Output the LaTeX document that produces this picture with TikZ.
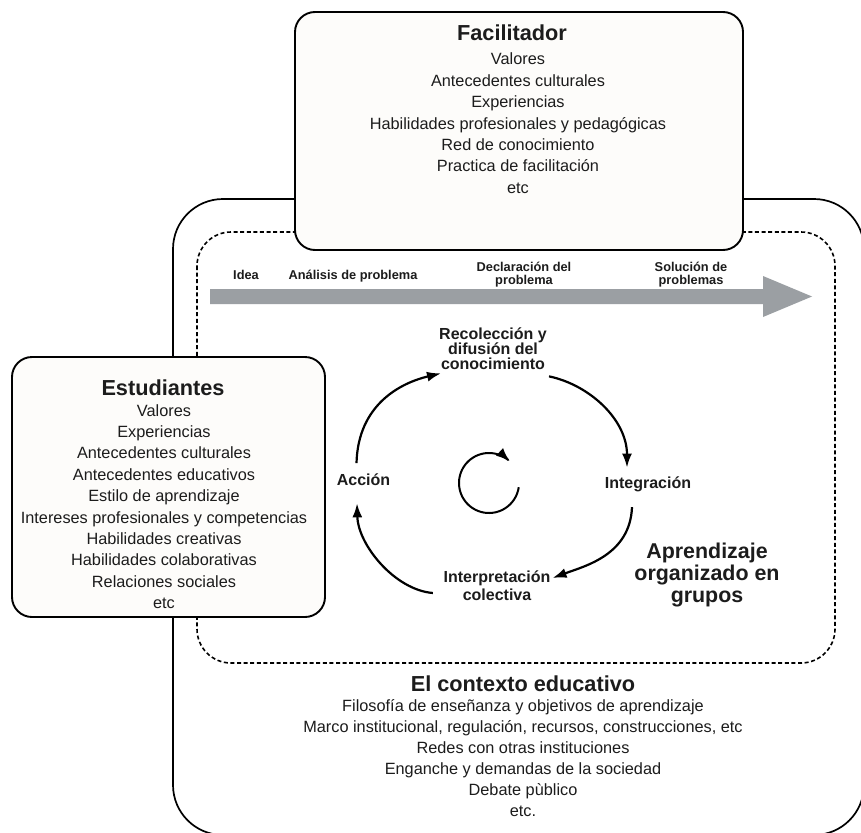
\documentclass[tikz,border=0pt]{standalone}
\usepackage{fontspec}
\setmainfont{Liberation Sans}
\usetikzlibrary{arrows.meta}
\definecolor{txt}{HTML}{1C1C1C}
\definecolor{boxfill}{HTML}{FDFCFA}
\definecolor{flow}{HTML}{9B9FA3}
\newcommand\mystack[1]{\vtop{\lineskiplimit=-100pt\halign{\hfil##\hfil\cr#1\crcr}}}
\begin{document}
\begin{tikzpicture}[x=1pt,y=-1pt,
  panel/.style={draw=black, line width=1.9pt, fill=boxfill, rounded corners=20pt, inner sep=0pt},
  listtxt/.style={anchor=base, inner sep=0pt, text=txt, font=\fontsize{16.3}{21.4}\selectfont},
  titletxt/.style={anchor=base, inner sep=0pt, text=txt, font=\bfseries\fontsize{21.7}{24}\selectfont},
  flowtxt/.style={anchor=base, inner sep=0pt, text=txt, font=\bfseries\fontsize{12.8}{13}\selectfont},
  cyctxt/.style={anchor=base, inner sep=0pt, text=txt, font=\bfseries\fontsize{16}{15}\selectfont},
  cyc/.style={line width=2.2pt, -{Latex[length=14pt,width=10pt]}},
]
\useasboundingbox (0,0) rectangle (861,832);
\clip (0,0) rectangle (861,832);
\fill[white] (0,0) rectangle (861,832);

% context frames
\draw[line width=1.7pt, rounded corners=50pt] (173,199) rectangle (864,835);
\draw[line width=1.6pt, dash pattern=on 4pt off 2.6pt, rounded corners=34pt] (197,232) rectangle (835,663);

% facilitator and students panels
\node[panel, minimum width=448pt, minimum height=238pt] (facbox) at (519,131) {};
\node[panel, minimum width=313pt, minimum height=260pt] (estbox) at (168.5,487) {};

\node[titletxt] (factitle) at (512,40.7) {Facilitador};
\node[listtxt] (faclist) at (518,65) {\mystack{Valores\cr Antecedentes culturales\cr Experiencias\cr Habilidades profesionales y pedagógicas\cr Red de conocimiento\cr Practica de facilitación\cr etc}};

\node[titletxt] (esttitle) at (163,395) {Estudiantes};
\node[listtxt] (estlist) at (164,416) {\mystack{Valores\cr Experiencias\cr Antecedentes culturales\cr Antecedentes educativos\cr Estilo de aprendizaje\cr Intereses profesionales y competencias\cr Habilidades creativas\cr Habilidades colaborativas\cr Relaciones sociales\cr etc}};

\node[titletxt] (ctxtitle) at (523,691.7) {El contexto educativo};
\node[listtxt, font=\fontsize{16.3}{21}\selectfont] (ctxlist) at (523,711.7) {\mystack{Filosofía de enseñanza y objetivos de aprendizaje\cr Marco institucional, regulación, recursos, construcciones, etc\cr Redes con otras instituciones\cr Enganche y demandas de la sociedad\cr Debate pùblico\cr etc.}};

% problem-solving flow arrow
\fill[flow] (210,289) -- (763,289) -- (763,276) -- (812,296.5) -- (763,317) -- (763,304) -- (210,304) -- cycle;
\node[flowtxt] (idea) at (246,279.3) {Idea};
\node[flowtxt] (anal) at (353,279.3) {Análisis de problema};
\node[flowtxt] (decl) at (524,271) {\mystack{Declaración del\cr problema}};
\node[flowtxt] (solu) at (691,271) {\mystack{Solución de\cr problemas}};

% cycle
\node[cyctxt] (rec) at (493,339) {\mystack{Recolección y\cr difusión del\cr conocimiento}};
\node[cyctxt] (acc) at (363.5,485) {Acción};
\node[cyctxt] (integ) at (648,488) {Integración};
\node[cyctxt, font=\bfseries\fontsize{16}{18}\selectfont] (interp) at (497,582) {\mystack{Interpretación\cr colectiva}};

\draw[cyc] ([shift={(-7,-10)}]acc.north) .. controls (358,405) and (400,383) .. ([shift={(2,4)}]rec.south west);
\draw[cyc] ([shift={(2,7)}]rec.south east) .. controls (590,385) and (627,420) .. ([shift={(-21,-8.5)}]integ.north);
\draw[cyc] ([shift={(-16,15.6)}]integ.south) .. controls (630,555) and (585,566) .. ([shift={(2,-4)}]interp.base east);
\draw[cyc] ([shift={(-10.6,11)}]interp.base west) .. controls (395,590) and (358,545) .. ([shift={(-6.5,18)}]acc.south);

\draw[line width=2pt, -{Latex[length=14pt,width=10.5pt]}] plot[domain=8:314, samples=80, smooth] ({489+30*cos(\x)}, {483+30*sin(\x)});

\node[anchor=base, inner sep=0pt, text=txt, font=\bfseries\fontsize{21.4}{22}\selectfont] (grp) at (707,558) {\mystack{Aprendizaje\cr organizado en\cr grupos}};
\end{tikzpicture}
\end{document}
